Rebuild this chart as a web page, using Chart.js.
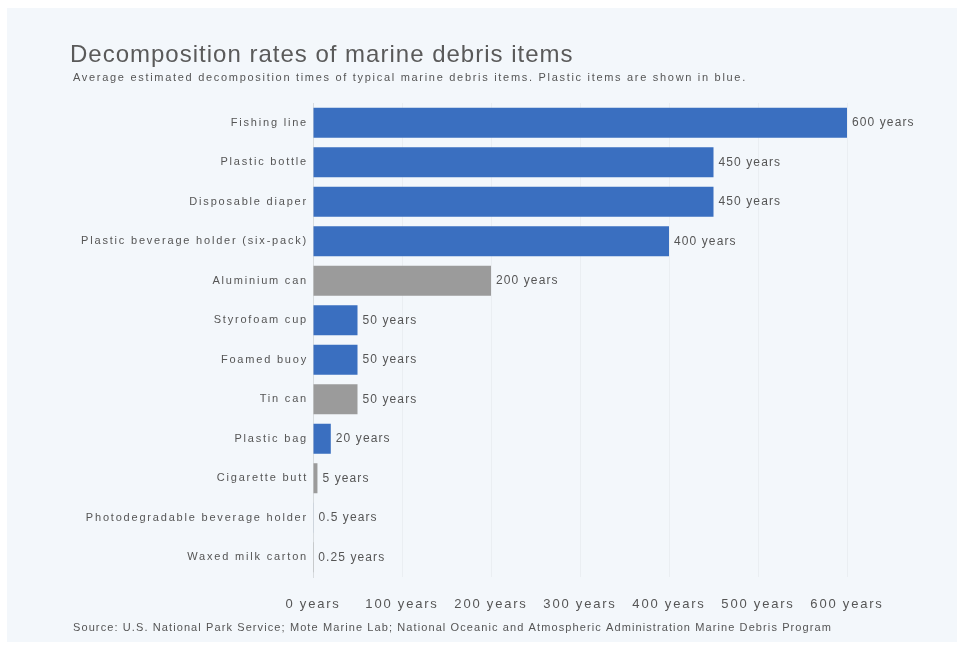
<!DOCTYPE html>
<html>
<head>
<meta charset="utf-8">
<script src="https://cdn.jsdelivr.net/npm/chart.js@4/dist/chart.umd.min.js"></script>
<style>
  html, body { margin: 0; padding: 0; background: #ffffff; }
  #panel { position: absolute; left: 7px; top: 8px; width: 950px; height: 634px; background: #f3f7fb; }
</style>
</head>
<body>
<div id="panel"><canvas id="debrisChart" width="950" height="634"></canvas></div>
<script>
// data
var items = ["Fishing line", "Plastic bottle", "Disposable diaper", "Plastic beverage holder (six-pack)",
    "Aluminium can", "Styrofoam cup", "Foamed buoy", "Tin can", "Plastic bag", "Cigarette butt",
    "Photodegradable beverage holder", "Waxed milk carton"];
var years = [600, 450, 450, 400, 200, 50, 50, 50, 20, 5, 0.5, 0.25];
var isPlastic = [true, true, true, true, false, true, true, false, true, false, true, false];
var valueLabels = ["600 years", "450 years", "450 years", "400 years", "200 years", "50 years", "50 years",
    "50 years", "20 years", "5 years", "0.5 years", "0.25 years"];
var xTicks = [0, 100, 200, 300, 400, 500, 600];

var titleText = "Decomposition rates of marine debris items";
var subtitleText = "Average estimated decomposition times of typical marine debris items. Plastic items are shown in blue.";
var sourceText = "Source: U.S. National Park Service; Mote Marine Lab; National Oceanic and Atmospheric Administration Marine Debris Program";

var blue = "#3a6fc0";
var grey = "#9b9b9b";
var textColor = "#555555";
var font = "'Liberation Sans', Arial, sans-serif";

// text in the reference is set quite loose, so spread the letters a bit
var spacingPlugin = {
    id: "looseText",
    beforeDraw: function (chart) {
        chart.ctx.letterSpacing = "1.8px";
    }
};

// title, subtitle, value labels and source note
var textPlugin = {
    id: "debrisText",
    afterDatasetsDraw: function (chart) {
        var ctx = chart.ctx;
        ctx.save();
        ctx.textBaseline = "middle";
        ctx.textAlign = "left";
        ctx.fillStyle = "#5a5a5a";
        ctx.font = "24px " + font;
        ctx.letterSpacing = "1px";
        ctx.fillText(titleText, 63, 47);

        ctx.fillStyle = textColor;
        ctx.font = "11px " + font;
        ctx.letterSpacing = "1.7px";
        ctx.fillText(subtitleText, 66, 70);
        ctx.letterSpacing = "1.1px";
        ctx.fillText(sourceText, 66, 620);

        ctx.font = "12px " + font;
        ctx.letterSpacing = "1.1px";
        chart.getDatasetMeta(0).data.forEach(function (bar, i) {
            ctx.fillText(valueLabels[i], bar.x + 5, bar.y);
        });
        ctx.restore();
    }
};

var ctx = document.getElementById("debrisChart").getContext("2d");

var chart = new Chart(ctx, {
    type: "bar",
    data: {
        labels: items,
        datasets: [{
            label: "Decomposition time",
            data: years,
            backgroundColor: isPlastic.map(function (p) { return p ? blue : grey; }),
            barPercentage: 0.76,
            categoryPercentage: 1.0
        }]
    },
    options: {
        indexAxis: "y",
        responsive: false,
        animation: false,
        layout: { padding: { top: 95, right: 110, bottom: 25, left: 0 } },
        plugins: {
            legend: { display: false },
            tooltip: { enabled: false }
        },
        scales: {
            x: {
                min: 0,
                max: 600,
                afterBuildTicks: function (scale) {
                    scale.ticks = xTicks.map(function (v) { return { value: v }; });
                },
                afterFit: function (scale) { scale.height = 40; },
                grid: { color: "rgba(0,0,0,0.035)", drawTicks: false },
                border: { display: false },
                ticks: {
                    padding: 20,
                    color: textColor,
                    font: { family: font, size: 13 },
                    callback: function (v) { return v + " years"; }
                }
            },
            y: {
                afterFit: function (scale) { scale.width = 306; },
                grid: { display: false },
                border: { display: true, color: "#d8dcdf" },
                ticks: {
                    padding: -3,
                    color: textColor,
                    font: { family: font, size: 11 }
                }
            }
        }
    },
    plugins: [spacingPlugin, textPlugin]
});
</script>
</body>
</html>
